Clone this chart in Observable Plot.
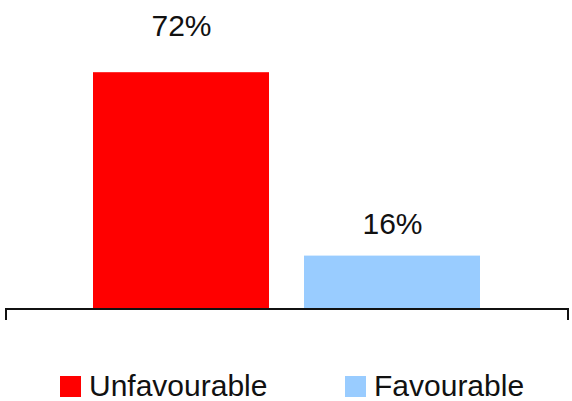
<!DOCTYPE html>
<html>
<head>
<meta charset="utf-8">
<script src="https://cdn.jsdelivr.net/npm/d3@7"></script>
<script src="https://cdn.jsdelivr.net/npm/@observablehq/plot@0.6"></script>
<style>
  html, body { margin: 0; padding: 0; background: #fff; }
  body { width: 572px; height: 401px; overflow: hidden; font-family: "Liberation Sans", Arial, Helvetica, sans-serif; }
  #chart svg { display: block; }
  .legend { position: relative; height: 61px; }
  .item { position: absolute; top: 31px; display: flex; align-items: center; font-size: 30px; color: #111; line-height: 30px; }
  .swatch { width: 21px; height: 21px; margin-right: 8px; }
</style>
</head>
<body>
<div id="chart"></div>
<div class="legend" id="legend"></div>
<script>
const categories = ["Unfavourable", "Favourable"];
const values = [72, 16];
const labels = ["72%", "16%"];
const colors = ["#ff0000", "#99ccff"];

const data = categories.map((c, i) => ({category: c, value: values[i], label: labels[i]}));

const bracket = (index, scales, vals, dims) => {
  const y0 = scales.y(0);
  const x1 = dims.marginLeft, x2 = dims.width - dims.marginRight;
  const g = d3.create("svg:g").attr("stroke", "#111").attr("fill", "none");
  g.append("line").attr("x1", x1).attr("x2", x2).attr("y1", y0 + 1).attr("y2", y0 + 1).attr("stroke-width", 2);
  g.append("line").attr("x1", x1 + 1).attr("x2", x1 + 1).attr("y1", y0).attr("y2", y0 + 12).attr("stroke-width", 2);
  g.append("line").attr("x1", x2 - 1).attr("x2", x2 - 1).attr("y1", y0).attr("y2", y0 + 12).attr("stroke-width", 2);
  return g.node();
};

const chart = Plot.plot({
  width: 572,
  height: 340,
  marginLeft: 5,
  marginRight: 3,
  marginTop: 46,
  marginBottom: 32,
  style: {fontFamily: "'Liberation Sans', Arial, Helvetica, sans-serif", background: "#fff"},
  x: {domain: categories, paddingInner: 0.164, paddingOuter: 0.413, axis: null},
  y: {domain: [0, 80], axis: null},
  color: {domain: categories, range: colors},
  marks: [
    Plot.barY(data, {x: "category", y: "value", fill: "category"}),
    Plot.text(data.filter(d => d.category === "Unfavourable"), {x: "category", y: "value", text: "label", fontSize: 30, fill: "#111", lineAnchor: "bottom", dy: -37}),
    Plot.text(data.filter(d => d.category === "Favourable"), {x: "category", y: "value", text: "label", fontSize: 30, fill: "#111", lineAnchor: "bottom", dy: -22}),
    bracket
  ]
});
document.getElementById("chart").append(chart);

const legend = document.getElementById("legend");
const lefts = [60, 345];
categories.forEach((c, i) => {
  const item = document.createElement("div");
  item.className = "item";
  item.style.left = lefts[i] + "px";
  const sw = document.createElement("div");
  sw.className = "swatch";
  sw.style.background = colors[i];
  const t = document.createElement("span");
  t.textContent = c;
  item.append(sw, t);
  legend.append(item);
});
</script>
</body>
</html>
